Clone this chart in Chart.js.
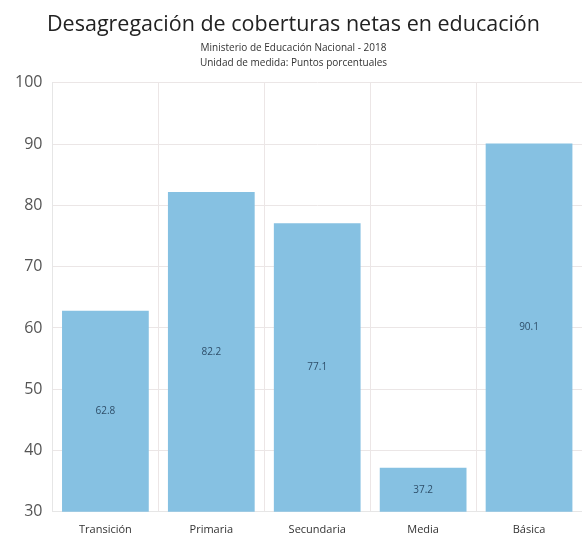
<!DOCTYPE html>
<html>
<head>
<meta charset="utf-8">
<script src="https://cdn.jsdelivr.net/npm/chart.js@4.4.1/dist/chart.umd.min.js"></script>
<style>
   html, body { margin: 0; padding: 0; background: #ffffff; }
   #wrap { width: 582px; height: 537px; }
</style>
</head>
<body>
<div id="wrap"><canvas id="chart" width="582" height="537"></canvas></div>
<script>
const categories = ["Transición", "Primaria", "Secundaria", "Media", "Básica"];
const coverage = [62.8, 82.2, 77.1, 37.2, 90.1];
const yTicks = [30, 40, 50, 60, 70, 80, 90, 100];

const titleText = "Desagregación de coberturas netas en educación";
const subtitleLines = ["Ministerio de Educación Nacional - 2018", "Unidad de medida: Puntos porcentuales"];

const fontFamily = "'Open Sans', 'Noto Sans', sans-serif";

// writes the value in the middle of each bar
const barValueLabels =
{
   id: "barValueLabels",
   afterDatasetsDraw(chart)
   {
      const ctx = chart.ctx;
      const meta = chart.getDatasetMeta(0);
      ctx.save();
      ctx.font = "10px " + fontFamily;
      ctx.fillStyle = "#2f4f6a";
      ctx.textAlign = "center";
      ctx.textBaseline = "middle";
      meta.data.forEach(function(bar, i)
      {
         const base = Math.min(bar.base, chart.chartArea.bottom);
         ctx.fillText(String(coverage[i]), bar.x, (bar.y + base) / 2);
      });
      ctx.restore();
   }
};

const ctx = document.getElementById("chart").getContext("2d");
const chart = new Chart(ctx,
{
   type: "bar",
   data:
   {
      labels: categories,
      datasets: [
      {
         data: coverage,
         backgroundColor: "#86c1e2",
         borderWidth: 0,
         categoryPercentage: 0.9,
         barPercentage: 0.91,
      }],
   },
   options:
   {
      responsive: false,
      animation: false,
      layout: { padding: { left: 5, right: 0, top: 0, bottom: -10 } },
      plugins:
      {
         legend: { display: false },
         tooltip: { enabled: false },
         title:
         {
            display: true,
            text: titleText,
            color: "#222222",
            font: { family: fontFamily, size: 21.5, weight: "normal" },
            padding: { top: 12, bottom: 3 },
         },
         subtitle:
         {
            display: true,
            text: subtitleLines,
            color: "#333333",
            font: { family: fontFamily, size: 10, weight: "normal", lineHeight: 1.5 },
            padding: { top: 0, bottom: 12 },
         },
      },
      scales:
      {
         x:
         {
            offset: true,
            grid: { color: "#ece6e6", offset: true, drawTicks: false },
            border: { color: "#e6e6e6" },
            ticks: { color: "#333333", font: { family: fontFamily, size: 11 }, padding: 11 },
         },
         y:
         {
            min: 30,
            max: 100,
            afterBuildTicks: function(axis)
            {
               axis.ticks = yTicks.map(function(v) { return { value: v }; });
            },
            grid: { color: "#ebe6e6", drawTicks: false },
            border: { color: "#e6e6e6" },
            ticks: { color: "#555555", font: { family: fontFamily, size: 16 }, padding: 10 },
         },
      },
   },
   plugins: [barValueLabels],
});
</script>
</body>
</html>
